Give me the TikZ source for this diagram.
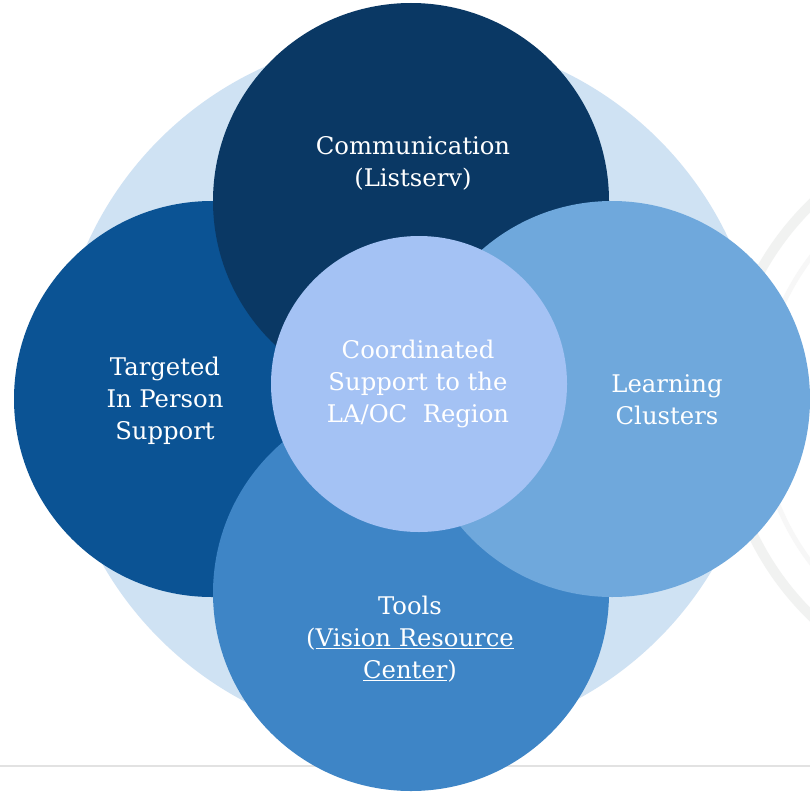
\documentclass[tikz,border=0pt]{standalone}
\usepackage{fontspec}
\setmainfont{DejaVu Serif}
\definecolor{bigc}{HTML}{CFE2F3}
\definecolor{topc}{HTML}{0A3864}
\definecolor{leftc}{HTML}{0B5394}
\definecolor{botc}{HTML}{3E85C6}
\definecolor{rightc}{HTML}{6FA8DC}
\definecolor{midc}{HTML}{A4C2F4}
\definecolor{rulec}{HTML}{E2E2E2}
\definecolor{arcc}{HTML}{F1F2F1}
\tikzset{
  disc/.style={circle, inner sep=0pt, outer sep=0pt},
  ring/.style={disc, minimum size=396pt},
  lbl/.style={text=white, align=center, inner sep=0pt, font=\fontsize{24.3}{32}\selectfont}
}
\begin{document}
\begin{tikzpicture}[x=1pt,y=-1pt]
\useasboundingbox (0,0) rectangle (810,792);
\fill[white] (0,0) rectangle (810,792);
% faint background arcs at the right
\node[disc, draw=arcc, line width=10pt, minimum size=575pt] (arcA) at (1012,410) {};
\node[disc, draw=arcc!60, line width=5pt, minimum size=505pt] (arcB) at (1012,410) {};
% bottom rule
\coordinate (ruleL) at (0,766);
\coordinate (ruleR) at (810,766);
\draw[rulec, line width=1.5pt] (ruleL) -- (ruleR);
% circles
\node[disc, fill=bigc, minimum size=706pt] (big) at (409,389) {};
\node[ring, fill=leftc] (left) at (212,399) {};
\node[ring, fill=topc] (top) at (411,201) {};
\node[ring, fill=botc] (bottom) at (411,593) {};
\node[ring, fill=rightc] (right) at (612,399) {};
\node[disc, fill=midc, minimum size=296pt] (mid) at (419,384) {};
% labels
\node[lbl] (tcomm) at (413,163) {Communication\\(Listserv)};
\node[lbl] (tleft) at (165,401) {Targeted\\In Person\\Support};
\node[lbl] (tright) at (667,400) {Learning\\Clusters};
\node[lbl] (tmid) at (418,384) {Coordinated\\Support to the\\LA/OC\ \ Region};
\node[lbl] (tbot) at (410,639) {Tools\\(\underline{Vision Resource}\\\underline{Center})};
\end{tikzpicture}
\end{document}
